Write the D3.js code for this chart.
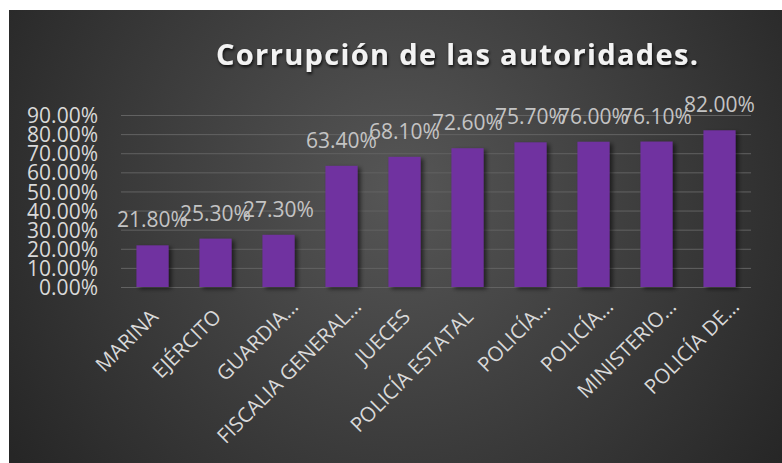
<!DOCTYPE html>
<html>
<head>
<meta charset="utf-8">
<script src="https://cdn.jsdelivr.net/npm/d3@7"></script>
<style>
  body { margin: 0; background: #fff; }
  text { font-family: "Open Sans", "Noto Sans", sans-serif; }
</style>
</head>
<body>
<div id="wrapper"></div>
<script>
// chart values
const categories = ["MARINA", "EJÉRCITO", "GUARDIA…", "FISCALIA GENERAL…", "JUECES",
    "POLICÍA ESTATAL", "POLICÍA…", "POLICÍA…", "MINISTERIO…", "POLICÍA DE…"];
const values = [0.218, 0.253, 0.273, 0.634, 0.681, 0.726, 0.757, 0.760, 0.761, 0.820];
const yTicks = [0, 0.1, 0.2, 0.3, 0.4, 0.5, 0.6, 0.7, 0.8, 0.9];
const title = "Corrupción de las autoridades.";

function build() {
    var dimension = {
        width: 782,
        height: 463,
        margin: { top: 115, right: 31, bottom: 176, left: 121 }
    };
    dimension.boundedWidth = dimension.width - dimension.margin.left - dimension.margin.right;
    dimension.boundedHeight = dimension.height - dimension.margin.top - dimension.margin.bottom;

    const data = values.map((v, i) => ({ i: i, name: categories[i], value: v }));

    const wrapper = d3.select("#wrapper")
        .append("svg")
        .attr("width", dimension.width)
        .attr("height", dimension.height)
        .style("display", "block");

    const defs = wrapper.append("defs");
    const grad = defs.append("radialGradient")
        .attr("id", "bg")
        .attr("gradientUnits", "userSpaceOnUse")
        .attr("cx", 400).attr("cy", 190).attr("r", 470);
    grad.append("stop").attr("offset", "0%").attr("stop-color", "#565656");
    grad.append("stop").attr("offset", "100%").attr("stop-color", "#262626");

    defs.append("filter").attr("id", "barShadow")
        .attr("x", "-30%").attr("y", "-10%").attr("width", "160%").attr("height", "130%")
        .append("feDropShadow")
        .attr("dx", 3).attr("dy", 2).attr("stdDeviation", 2)
        .attr("flood-color", "#000").attr("flood-opacity", 0.55);

    defs.append("filter").attr("id", "titleShadow")
        .append("feDropShadow")
        .attr("dx", 1).attr("dy", 2).attr("stdDeviation", 1.5)
        .attr("flood-color", "#000").attr("flood-opacity", 0.8);

    // chart area
    wrapper.append("rect")
        .attr("x", 9).attr("y", 10)
        .attr("width", dimension.width - 9)
        .attr("height", dimension.height - 10)
        .attr("fill", "url(#bg)");

    wrapper.append("text")
        .attr("x", 216)
        .attr("y", 65)
        .attr("textLength", 482)
        .attr("lengthAdjust", "spacing")
        .attr("fill", "#f2f2f2")
        .attr("font-size", 29)
        .attr("font-weight", "bold")
        .attr("filter", "url(#titleShadow)")
        .text(title);

    const bounds = wrapper.append("g")
        .attr("transform", `translate(${dimension.margin.left},${dimension.margin.top})`);

    const x = d3.scaleBand()
        .domain(data.map(d => d.i))
        .range([0, dimension.boundedWidth])
        .paddingInner(0.49)
        .paddingOuter(0.245);

    const y = d3.scaleLinear()
        .domain([0, 0.9])
        .range([dimension.boundedHeight, 0]);

    // gridlines + y labels
    const yAxis = bounds.append("g")
        .call(d3.axisLeft(y)
            .tickValues(yTicks)
            .tickFormat(d3.format(".2%"))
            .tickSize(-dimension.boundedWidth)
            .tickPadding(23));
    yAxis.select(".domain").remove();
    yAxis.selectAll("line").attr("stroke", "#626262").attr("stroke-width", 1);
    yAxis.selectAll("text")
        .attr("fill", "#d9d9d9")
        .attr("font-size", 21)
        .attr("dy", "0.36em")
        .style("font-family", "'Open Sans', sans-serif");

    bounds.selectAll("rect.bar")
        .data(data)
        .enter()
        .append("rect")
        .attr("class", "bar")
        .attr("x", d => x(d.i))
        .attr("y", d => y(d.value))
        .attr("width", x.bandwidth())
        .attr("height", d => y(0) - y(d.value))
        .attr("fill", "#7030a0")
        .attr("filter", "url(#barShadow)");

    // baseline
    bounds.append("line")
        .attr("x1", 0).attr("x2", dimension.boundedWidth)
        .attr("y1", y(0)).attr("y2", y(0))
        .attr("stroke", "#a6a6a6")
        .attr("stroke-width", 2)
        .attr("filter", "url(#titleShadow)");

    // data labels
    bounds.selectAll("text.lbl")
        .data(data)
        .enter()
        .append("text")
        .attr("class", "lbl")
        .attr("x", d => x(d.i) + x.bandwidth() / 2)
        .attr("y", d => y(d.value) - 18)
        .attr("text-anchor", "middle")
        .attr("fill", "#c4c4c4")
        .attr("font-size", 21)
        .text(d => d3.format(".2%")(d.value));

    // category labels, rotated
    bounds.selectAll("text.cat")
        .data(data)
        .enter()
        .append("text")
        .attr("class", "cat")
        .attr("text-anchor", "end")
        .attr("fill", "#d9d9d9")
        .attr("font-size", 20.5)
        .attr("transform", d => {
            var cut = d.name.endsWith("…");
            var cx = x(d.i) + x.bandwidth() / 2 + (cut ? 21 : 7);
            var cy = y(0) + (cut ? 21 : 31);
            return `translate(${cx},${cy}) rotate(-45)`;
        })
        .text(d => d.name);
}

build();
</script>
</body>
</html>
